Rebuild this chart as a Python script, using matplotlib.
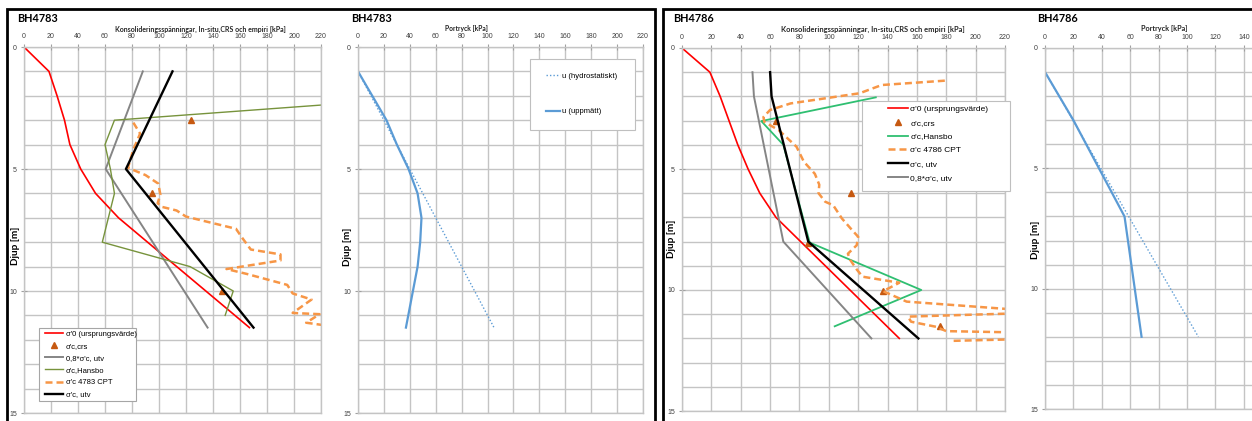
import numpy as np
import matplotlib.pyplot as plt
from matplotlib.patches import Rectangle

# Sounding BH4783 - consolidation stresses (kPa) against depth (m)
d_s0_83 = [0, 1, 2, 3, 4, 5, 6, 7, 11.5]
s0_83 = [0, 18.5, 24.5, 30, 34, 42, 53, 70, 167]
d_utv_83 = [1, 5, 11.5]
utv_83 = [110, 75.5, 170]
utv08_83 = [88, 60.5, 136]
d_hansbo_83 = [2.38, 3, 4, 5, 6, 8, 9, 10, 11]
hansbo_83 = [220, 67, 60, 64, 67, 58, 123, 155, 149]
d_crs_83 = [3, 6, 10]
crs_83 = [124, 95, 147]
d_cpt_83 = [3.1, 3.55, 4.2, 4.95, 5.25, 5.6, 6.05, 6.4, 6.55, 6.7, 6.95, 7.45, 7.85,
            8.3, 8.5, 8.75, 9.1, 9.3, 9.75, 10.1, 10.35, 10.9, 10.95, 11.3, 11.4]
cpt_83 = [81, 86, 81, 77, 90, 99.5, 101, 99, 102, 113, 120, 157, 162,
          168, 190, 190, 150, 165, 195, 199, 213, 199, 219, 209, 222]

# BH4783 - pore pressure
d_hyd_83 = [1, 11.5]
hyd_83 = [0, 105]
d_u_83 = [1, 2, 3, 4, 5, 6, 7, 8, 9, 11.5]
u_83 = [0, 11, 22, 30, 39, 46, 49, 48, 46, 37]

# Sounding BH4786 - consolidation stresses
d_s0_86 = [0, 1, 2, 3, 4, 5, 6, 7, 12]
s0_86 = [0, 19, 26, 32, 38, 45, 53, 64, 148]
d_utv_86 = [1, 2, 8, 12]
utv_86 = [60, 61, 86, 161]
utv08_86 = [48, 49, 69, 129]
d_hansbo_86 = [2.04, 3.02, 4, 8.04, 10, 11.5]
hansbo_86 = [132, 54, 69, 87, 163, 104]
d_crs_86 = [3.0, 6.0, 8.05, 10.05, 11.5]
crs_86 = [64, 115, 86, 137, 176]
d_cpt_86 = [1.35, 1.53, 1.87, 2.29, 2.56, 2.85, 3.05, 3.4, 4.08, 4.7, 5.2, 5.65, 6.0,
            6.35, 6.5, 7.05, 7.5, 7.8, 8.15, 8.5, 8.75, 9.15, 9.45, 9.7, 10.05, 10.48,
            10.8, 10.97, 11.1, 11.31, 11.52, 11.7, 11.75, 12.04, 12.1]
cpt_86 = [179, 136, 121, 74, 60, 55.5, 56, 66, 78, 83, 90.5, 93.5, 93,
          97.5, 103, 109, 115.5, 120, 119, 113, 114.5, 119, 123, 148, 137, 153,
          225, 225, 154, 156, 173, 180, 225, 225, 185]

# BH4786 - pore pressure
d_hyd_86 = [1, 12]
hyd_86 = [0, 108]
d_u_86 = [1, 3, 7, 12]
u_86 = [0, 20, 56, 68]

x_ticks = list(range(0, 221, 20))
# the last pore pressure chart runs off the right edge, only these labels fit
x_labels_cut = ['0', '20', '40', '60', '80', '100', '120', '140', '', '', '', '']

W, H = 1252, 421
fig = plt.figure(figsize=(W / 100, H / 100), dpi=100)
fig.patch.set_facecolor('white')

TXT = 'Liberation Sans'
HEAD = 'Lato'
GRID = '#c4c4c4'
RED = '#ff0000'
GREY = '#858585'
ORANGE = '#f79646'
TRI = '#c65911'
BLUE = '#5b9bd5'
CPT_LS = (0, (2.8, 1.6))


def px_axes(x0, y0, x1, y1):
    return fig.add_axes([x0 / W, 1 - y1 / H, (x1 - x0) / W, (y1 - y0) / H])


def fig_text(x, y, s, **kw):
    fig.text(x / W, 1 - y / H, s, **kw)


def px_box(x0, y0, x1, y1, **kw):
    fig.add_artist(Rectangle((x0 / W, 1 - y1 / H), (x1 - x0) / W, (y1 - y0) / H,
                             transform=fig.transFigure, **kw))


def px_legend(handles, x, y, size, spacing, hlen):
    # frameless figure legend, the box is drawn separately with px_box
    return fig.legend(handles=handles, loc='upper left', bbox_to_anchor=(x / W, 1 - y / H),
                      prop={'family': TXT, 'size': size}, frameon=False,
                      labelspacing=spacing, handlelength=hlen, handletextpad=0.3,
                      borderpad=0, borderaxespad=0)


def style_axes(ax, ylab_x, ylab_y):
    ax.set_xlim(0, 220)
    ax.set_ylim(15, 0)
    ax.xaxis.tick_top()
    ax.set_xticks(x_ticks)
    ax.set_yticks([0, 5, 10, 15])
    ax.set_yticks(range(16), minor=True)
    ax.grid(True, which='major', color=GRID, lw=1)
    ax.grid(True, which='minor', axis='y', color=GRID, lw=1)
    ax.tick_params(which='major', direction='inout', length=4, width=0.8, color='#a0a0a0',
                   labelsize=5, labelcolor='#404040', pad=3)
    ax.tick_params(which='minor', length=0)
    for lab in ax.get_xticklabels() + ax.get_yticklabels():
        lab.set_fontfamily(TXT)
    for sp in ax.spines.values():
        sp.set_color(GRID)
        sp.set_linewidth(1)
    ax.set_ylabel('Djup [m]', fontsize=7.2, fontweight='bold', family=HEAD)
    ax.yaxis.set_label_coords(ylab_x, ylab_y)
    ax.set_axisbelow(True)


# panel frames
px_box(7, 9, 655, 440, fill=False, ec='black', lw=2)
px_box(663, 9, 1283, 440, fill=False, ec='black', lw=2)

# --- BH4783 consolidation stresses ---
ax1 = px_axes(24, 47, 321, 413)
style_axes(ax1, -0.012, 0.456)
l_s0, = ax1.plot(s0_83, d_s0_83, color=RED, lw=1.2, label="σ'0 (ursprungsvärde)")
l_crs, = ax1.plot(crs_83, d_crs_83, ls='none', marker='^', ms=4, color=TRI, label="σ'c,crs")
l_08, = ax1.plot(utv08_83, d_utv_83, color=GREY, lw=1.4, label="0,8*σ'c, utv")
l_hb, = ax1.plot(hansbo_83, d_hansbo_83, color='#77933c', lw=1, label="σ'c,Hansbo")
l_cpt, = ax1.plot(cpt_83, d_cpt_83, color=ORANGE, lw=1.8, ls=CPT_LS, label="σ'c 4783 CPT")
l_utv, = ax1.plot(utv_83, d_utv_83, color='black', lw=1.7, label="σ'c, utv")
px_box(39, 328, 136, 401, fc='white', ec='#a6a6a6', lw=0.8)
px_legend([l_s0, l_crs, l_08, l_hb, l_cpt, l_utv], 45, 330.5, 5.5, 0.62, 2.4)
fig_text(17, 19, 'BH4783', fontsize=7.8, fontweight='bold', family=HEAD, va='center')
fig_text(200, 29, 'Konsolideringsspänningar, In-situ,CRS och empiri [kPa]', fontsize=5.0,
         fontweight='bold', family=HEAD, ha='center', va='center', color='#262626')

# --- BH4783 pore pressure ---
ax2 = px_axes(358, 47, 643, 413)
style_axes(ax2, -0.02, 0.453)
h_hyd, = ax2.plot(hyd_83, d_hyd_83, color=BLUE, lw=1, ls=(0, (1, 1.5)), label='u (hydrostatiskt)')
h_u, = ax2.plot(u_83, d_u_83, color=BLUE, lw=1.6, label='u (uppmätt)')
px_box(530, 59, 635, 130, fc='white', ec='#bfbfbf', lw=0.8)
px_legend([h_hyd, h_u], 546, 72.5, 5.5, 3.7, 1.85)
fig_text(351, 18, 'BH4783', fontsize=7.8, fontweight='bold', family=HEAD, va='center')
fig_text(466, 28, 'Portryck [kPa]', fontsize=4.9, fontweight='bold', family=HEAD,
         ha='center', va='center', color='#262626')

# --- BH4786 consolidation stresses ---
ax3 = px_axes(682, 48, 1005, 411)
style_axes(ax3, -0.02, 0.473)
m_s0, = ax3.plot(s0_86, d_s0_86, color=RED, lw=1.2, label="σ'0 (ursprungsvärde)")
m_crs, = ax3.plot(crs_86, d_crs_86, ls='none', marker='^', ms=4, color=TRI, label="σ'c,crs")
m_hb, = ax3.plot(hansbo_86, d_hansbo_86, color='#2fbf71', lw=1.3, label="σ'c,Hansbo")
m_cpt, = ax3.plot(cpt_86, d_cpt_86, color=ORANGE, lw=1.8, ls=CPT_LS, label="σ'c 4786 CPT")
m_utv, = ax3.plot(utv_86, d_utv_86, color='black', lw=1.7, label="σ'c, utv")
m_08, = ax3.plot(utv08_86, d_utv_86, color=GREY, lw=1.4, label="0,8*σ'c, utv")
px_box(862, 101, 1010, 191, fc='white', ec='#bfbfbf', lw=0.8)
px_legend([m_s0, m_crs, m_hb, m_cpt, m_utv, m_08], 888, 105, 6, 0.72, 2.4)
fig_text(673, 19, 'BH4786', fontsize=7.8, fontweight='bold', family=HEAD, va='center')
fig_text(873, 29, 'Konsolideringsspänningar, In-situ,CRS och empiri [kPa]', fontsize=5.4,
         fontweight='bold', family=HEAD, ha='center', va='center', color='#262626')

# --- BH4786 pore pressure ---
ax4 = px_axes(1045, 48, 1045 + 220 * 1.42, 409)
style_axes(ax4, -0.015, 0.47)
ax4.set_xticklabels(x_labels_cut, family=TXT)
ax4.plot(hyd_86, d_hyd_86, color=BLUE, lw=1, ls=(0, (1, 1.5)))
ax4.plot(u_86, d_u_86, color=BLUE, lw=1.6)
fig_text(1037, 18, 'BH4786', fontsize=7.8, fontweight='bold', family=HEAD, va='center')
fig_text(1164, 28, 'Portryck [kPa]', fontsize=5.2, fontweight='bold', family=HEAD,
         ha='center', va='center', color='#262626')

fig.savefig('out.png', dpi=100)
